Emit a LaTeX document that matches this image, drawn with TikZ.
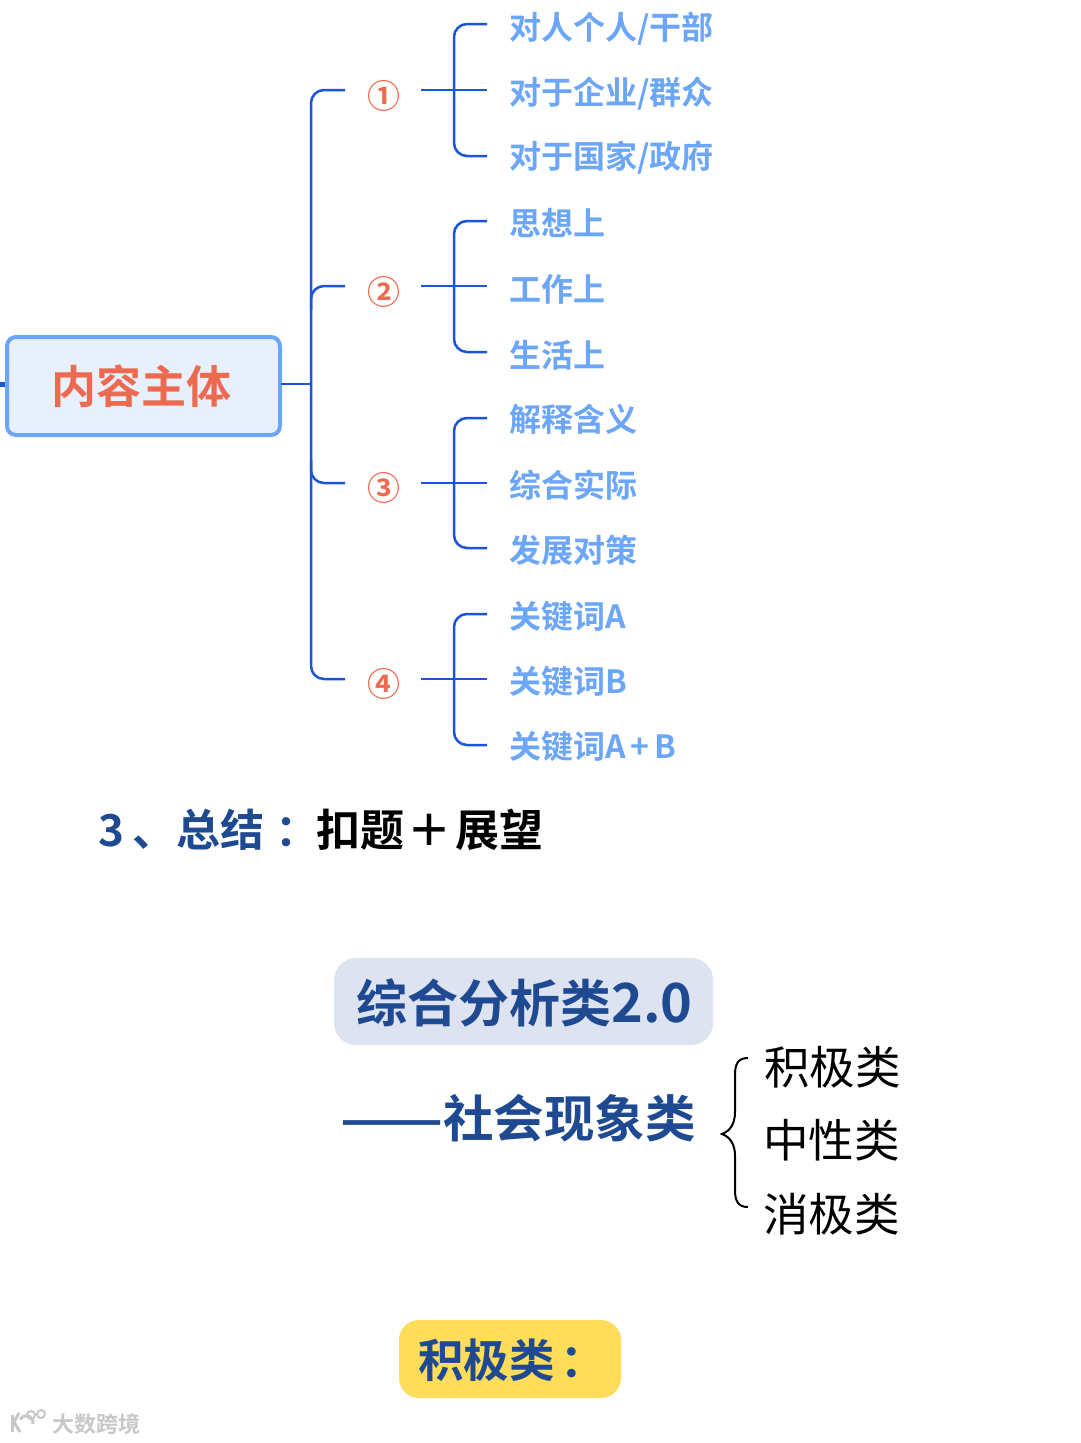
\documentclass[tikz,border=0pt]{standalone}
\usepackage{fontspec}
\setmainfont{Noto Sans CJK SC}
\newfontfamily\cjkb{Noto Sans CJK SC Bold}
\newfontfamily\cjkm{Noto Sans CJK SC Medium}
\definecolor{linkblue}{HTML}{1A55D9}
\definecolor{leafblue}{HTML}{6CA6F8}
\definecolor{rootfill}{HTML}{E8EFFD}
\definecolor{redtxt}{HTML}{EC6B50}
\definecolor{navy}{HTML}{1F4A92}
\definecolor{titlefill}{HTML}{DDE3F0}
\definecolor{yellowfill}{HTML}{FFDC5A}
\definecolor{wmgray}{HTML}{C8C8C8}
\tikzset{
 leaf/.style={anchor=west,text=leafblue,inner sep=0pt,font=\cjkb\fontsize{32}{32}\selectfont},
 num/.style={text=redtxt,inner sep=0pt,font=\cjkb\fontsize{33}{33}\selectfont},
 link/.style={draw=linkblue,line width=2.5pt,rounded corners=13pt},
 plainlink/.style={draw=linkblue,line width=2.5pt},
 head/.style={inner sep=0pt,anchor=west,font=\cjkb\fontsize{44}{44}\selectfont},
 big/.style={inner sep=0pt,anchor=west,text=navy,font=\cjkb\fontsize{50.5}{50.5}\selectfont},
 cat/.style={inner sep=0pt,anchor=west,text=black,font=\fontsize{45.5}{45.5}\selectfont},
}
\begin{document}
\begin{tikzpicture}[x=1pt,y=-1pt]
\useasboundingbox (0,0) rectangle (1080,1443);
\fill[white] (0,0) rectangle (1080,1443);
% root
\node[draw=leafblue,fill=rootfill,line width=4pt,rounded corners=9pt,minimum width=273pt,minimum height=98pt,inner sep=0pt,text=redtxt,font=\cjkb\fontsize{45}{45}\selectfont] (root) at (143.5,386) {\hspace{-5pt}内容主体};
\coordinate (stub) at (0,384);
\coordinate (rootout) at (281,384);
\draw[linkblue,line width=5pt] (stub) -- (5,384);
% spine coordinates
\coordinate (s1) at (345,90);
\coordinate (s2) at (345,286);
\coordinate (s3) at (345,483);
\coordinate (s4) at (345,679);
\coordinate (sx) at (311,384);
\draw[plainlink] (rootout) -- (sx);
\draw[link] (s1) -- (311,90) -- (311,679) -- (s4);
\draw[link] (s2) -- (311,286) -- (311,310);
\draw[link] (s3) -- (311,483) -- (311,460);
% numbers
\node[num] (n1) at (384,96) {①};
\node[num] (n2) at (384,292) {②};
\node[num] (n3) at (384,488) {③};
\node[num] (n4) at (384,684) {④};
% leaves
\node[leaf] (a1) at (509,29) {对人个人/干部};
\node[leaf] (a2) at (509,94) {对于企业/群众};
\node[leaf] (a3) at (509,158) {对于国家/政府};
\node[leaf] (b1) at (509,223) {思想上};
\node[leaf] (b2) at (509,289) {工作上};
\node[leaf] (b3) at (509,355) {生活上};
\node[leaf] (c1) at (509,419) {解释含义};
\node[leaf] (c2) at (509,485) {综合实际};
\node[leaf] (c3) at (509,550) {发展对策};
\node[leaf] (d1) at (509,616) {关键词A};
\node[leaf] (d2) at (509,681) {关键词B};
\node[leaf] (d3) at (509,746) {关键词A\hspace{5pt}+\hspace{5pt}B};
% branch brackets
\foreach \n/\t/\m/\b in {1/24/90/156,2/221/286/352,3/418/483/548,4/614/679/745}{
  \coordinate (in\n) at (421,\m);
  \coordinate (top\n) at (487,\t);
  \coordinate (mid\n) at (487,\m);
  \coordinate (bot\n) at (487,\b);
  \draw[plainlink] (in\n) -- (mid\n);
  \draw[link] (top\n) -- (454,\t) -- (454,\b) -- (bot\n);
}
% headings
\node[head,text=navy] (h1) at (98,830) {3\hspace{8pt}、总结\hspace{11pt}：};
\node[head,text=black] (h2) at (316,830) {扣题\hspace{3pt}＋\hspace{4pt}展望};
\node[fill=titlefill,rounded corners=22pt,minimum width=379pt,minimum height=87pt,inner sep=0pt] (tbox) at (523.5,1001.5) {};
\node[big] (t1) at (356,1003) {\fontsize{51}{51}\selectfont 综合分析类{\fontsize{54}{54}\selectfont 2.0}};
\node[big] (t2) at (340,1118) {\scalebox{1.2}[1]{——}社会现象类};
\node[cat] (k1) at (764,1067) {积极类};
\node[cat] (k2) at (763,1140) {中性类};
\node[cat] (k3) at (763,1214) {消极类};
\coordinate (brT) at (748,1058);
\coordinate (brM) at (722,1134);
\coordinate (brB) at (748,1207);
\draw[black,line width=2pt] (brT) .. controls (738,1058) and (735,1064) .. (735,1075) -- (735,1112) .. controls (735,1124) and (730,1131) .. (brM) .. controls (730,1137) and (735,1144) .. (735,1156) -- (735,1190) .. controls (735,1201) and (738,1207) .. (brB);
\node[fill=yellowfill,rounded corners=20pt,minimum width=222pt,minimum height=78pt,inner sep=0pt] (ybox) at (510,1359) {};
\node[inner sep=0pt,anchor=west,text=navy,font=\cjkb\fontsize{45.5}{45.5}\selectfont] (yt) at (418,1360) {积极类\hspace{6pt}：};
% watermark
\node[inner sep=0pt,anchor=west,text=wmgray,font=\cjkb\fontsize{22}{22}\selectfont] (wm) at (52,1424) {大数跨境};
\draw[wmgray,line width=3pt] (12,1415) -- (12,1432);
\draw[wmgray,line width=3pt] (19,1413) -- (14,1422) -- (20,1432);
\draw[wmgray,line width=3pt] (33,1424) arc (10:-150:7);
\draw[wmgray,line width=2pt] (31,1415) circle (4);
\draw[wmgray,line width=2pt] (41,1414) circle (4);
\end{tikzpicture}
\end{document}
